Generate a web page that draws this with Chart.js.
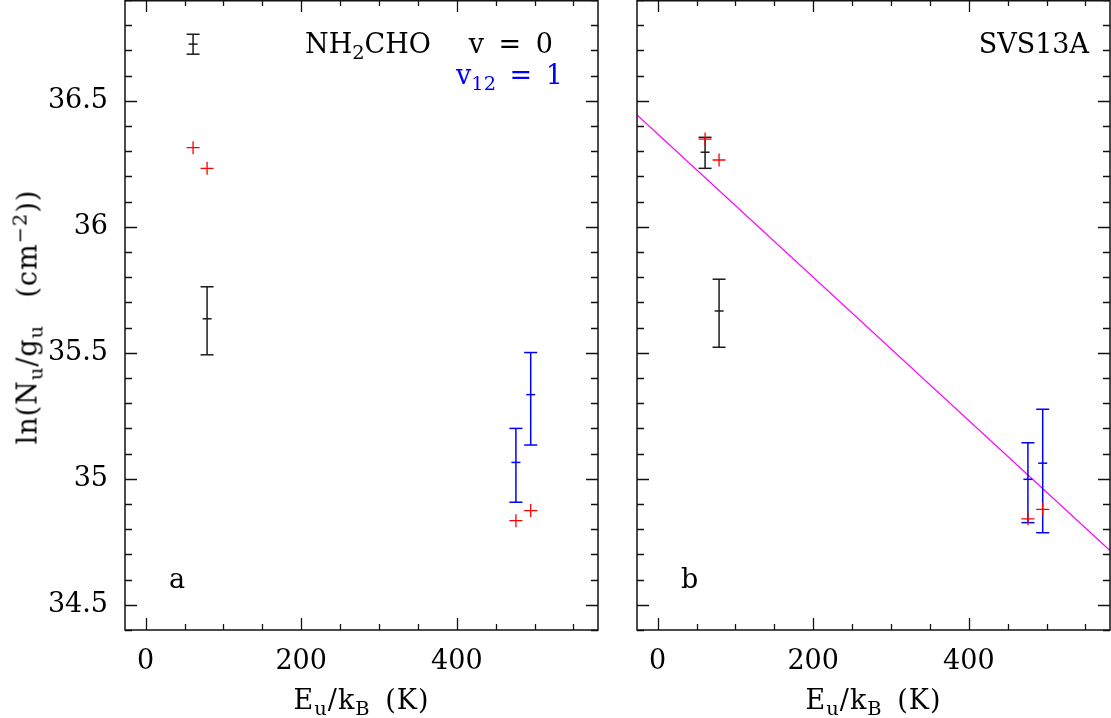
<!DOCTYPE html>
<html>
<head>
<meta charset="utf-8">
<script src="https://cdn.jsdelivr.net/npm/chart.js@4.4.1/dist/chart.umd.min.js"></script>
<style>
  body { margin: 0; background: #fff; }
  #wrap { position: relative; width: 1111px; height: 718px; overflow: hidden; background: #fff; }
  canvas { position: absolute; top: 0; }
  #chartA { left: 0; }
  #chartB { left: 611px; }
  .t { position: absolute; font: 27px/27px "DejaVu Serif", serif; color: #000; white-space: nowrap; }
  .t sub { font-size: 0.72em; line-height: 0; vertical-align: -0.32em; }
  .t sup { font-size: 0.72em; line-height: 0; vertical-align: 0.5em; }
  .blue { color: #0000ff; }
  .xt { transform: translateX(-50%); top: 686px; word-spacing: 5px; letter-spacing: 1px; }
  #ytitle { left: 27px; top: 317px; transform: translate(-50%, -50%) rotate(-90deg); word-spacing: 4px; letter-spacing: 1px; }
</style>
</head>
<body>
<div id="wrap">
  <canvas id="chartA" width="611" height="718"></canvas>
  <canvas id="chartB" width="500" height="718"></canvas>

  <div class="t" style="left:305px; top:30px">NH<sub>2</sub>CHO</div>
  <div class="t" style="right:558px; top:30px; word-spacing:6px">v = 0</div>
  <div class="t blue" style="right:548px; top:61px; word-spacing:5px">v<sub>12</sub> = 1</div>
  <div class="t" style="right:22px; top:30px">SVS13A</div>
  <div class="t" style="left:169px; top:565px">a</div>
  <div class="t" style="left:681px; top:565px">b</div>
  <div class="t xt" style="left:361.5px">E<sub>u</sub>/k<sub>B</sub> (K)</div>
  <div class="t xt" style="left:873.5px">E<sub>u</sub>/k<sub>B</sub> (K)</div>
  <div class="t" id="ytitle">ln(N<sub>u</sub>/g<sub>u</sub>&nbsp; (cm<sup>−2</sup>))</div>
</div>

<script>
// axis ranges and tick labels
const xRange = [-26.5, 581.5];
const yRange = [34.4, 36.9];
const xTicks = [0, 200, 400];
const yTicks = [34.5, 35, 35.5, 36, 36.5];

// upper level energies (K)
const eV0 = [61, 79];
const eV12 = [476, 495];
const eAll = [61, 79, 476, 495];

// panel a: observed (with errors) and model (red crosses)
const aV0 = [36.725, 35.635];
const aV0Lo = [36.685, 35.492];
const aV0Hi = [36.764, 35.762];
const aV12 = [35.065, 35.334];
const aV12Lo = [34.907, 35.134];
const aV12Hi = [35.200, 35.501];
const aModel = [36.314, 36.232, 34.834, 34.874];

// panel b
const bV0 = [36.296, 35.666];
const bV0Lo = [36.232, 35.522];
const bV0Hi = [36.355, 35.792];
const bV12 = [34.998, 35.062];
const bV12Lo = [34.826, 34.786];
const bV12Hi = [35.143, 35.276];
const bModel = [36.348, 36.265, 34.841, 34.879];

// rotation diagram fit, panel b
const fitE = [-26.5, 581.5];
const fitY = [36.444, 34.715];

const black = '#1a1a1a';
const blue = '#0000ff';
const red = '#ff0000';
const magenta = '#ff00ff';
const tickFont = { family: 'DejaVu Serif', size: 27 };

function errorBars(e, mid, lo, hi, color) {
  const sets = e.map((v, i) => ({
    data: [{ x: v, y: lo[i] }, { x: v, y: hi[i] }],
    showLine: true,
    borderColor: color,
    borderWidth: 1.5,
    pointStyle: 'line',
    pointRadius: 6.5,
    pointBorderColor: color,
    pointBorderWidth: 1.5
  }));
  sets.push({
    data: e.map((v, i) => ({ x: v, y: mid[i] })),
    pointStyle: 'line',
    pointRadius: 4.5,
    borderColor: color,
    pointBorderColor: color,
    pointBorderWidth: 1.5
  });
  return sets;
}

function crosses(e, vals) {
  return {
    data: e.map((v, i) => ({ x: v, y: vals[i] })),
    pointStyle: 'cross',
    pointRadius: 6.5,
    borderColor: red,
    pointBorderColor: red,
    pointBorderWidth: 1.3
  };
}

// frame and inward ticks on all four sides
const frameTicks = {
  id: 'frameTicks',
  afterDatasetsDraw(chart) {
    const { ctx, chartArea: a, scales: { x, y } } = chart;
    ctx.save();
    ctx.strokeStyle = '#111';
    ctx.lineWidth = 1.3;
    ctx.beginPath();
    for (let k = Math.ceil(x.min / 50); k <= Math.floor(x.max / 50); k++) {
      const px = Math.round(x.getPixelForValue(k * 50)) + 0.5;
      const len = (k * 50) % 200 === 0 ? 12 : 6;
      ctx.moveTo(px, a.bottom); ctx.lineTo(px, a.bottom - len);
      ctx.moveTo(px, a.top); ctx.lineTo(px, a.top + len);
    }
    for (let k = Math.ceil(y.min * 10 - 1e-6); k <= Math.floor(y.max * 10 + 1e-6); k++) {
      const py = Math.round(y.getPixelForValue(k / 10)) + 0.5;
      const len = k % 5 === 0 ? 12 : 7;
      ctx.moveTo(a.left, py); ctx.lineTo(a.left + len, py);
      ctx.moveTo(a.right, py); ctx.lineTo(a.right - len, py);
    }
    ctx.stroke();
    ctx.lineWidth = 1.5;
    ctx.strokeRect(a.left, a.top + 0.75, a.width, a.height - 0.75);
    ctx.restore();
  }
};

function noPad(s) {
  s.paddingTop = 0;
  s.paddingBottom = 0;
  s.paddingLeft = 0;
  s.paddingRight = 0;
}

function makeOptions(yWidth, padRight, showYLabels) {
  return {
    responsive: false,
    animation: false,
    devicePixelRatio: 1,
    layout: { autoPadding: false, padding: { left: 0, right: padRight, top: 0, bottom: 0 } },
    plugins: { legend: { display: false }, tooltip: { enabled: false } },
    scales: {
      x: {
        type: 'linear',
        min: xRange[0],
        max: xRange[1],
        afterBuildTicks: s => { s.ticks = xTicks.map(v => ({ value: v })); },
        afterFit: s => { s.height = 88; noPad(s); },
        grid: { display: false, drawTicks: false },
        border: { display: false },
        ticks: { font: tickFont, color: '#000', padding: 16, maxRotation: 0, callback: v => String(v) }
      },
      y: {
        type: 'linear',
        min: yRange[0],
        max: yRange[1],
        afterBuildTicks: s => { s.ticks = yTicks.map(v => ({ value: v })); },
        afterFit: s => { s.width = yWidth; noPad(s); },
        grid: { display: false, drawTicks: false },
        border: { display: false },
        ticks: { display: showYLabels, font: tickFont, color: '#000', padding: 17, callback: v => String(v) }
      }
    }
  };
}

new Chart(document.getElementById('chartA'), {
  type: 'scatter',
  data: {
    datasets: [
      crosses(eAll, aModel),
      ...errorBars(eV0, aV0, aV0Lo, aV0Hi, black),
      ...errorBars(eV12, aV12, aV12Lo, aV12Hi, blue)
    ]
  },
  options: makeOptions(125, 13, true),
  plugins: [frameTicks]
});

new Chart(document.getElementById('chartB'), {
  type: 'scatter',
  data: {
    datasets: [
      crosses(eAll, bModel),
      ...errorBars(eV0, bV0, bV0Lo, bV0Hi, black),
      ...errorBars(eV12, bV12, bV12Lo, bV12Hi, blue),
      {
        data: fitE.map((v, i) => ({ x: v, y: fitY[i] })),
        showLine: true,
        borderColor: magenta,
        borderWidth: 1.3,
        pointRadius: 0
      }
    ]
  },
  options: makeOptions(26, 1, false),
  plugins: [frameTicks]
});
</script>
</body>
</html>
